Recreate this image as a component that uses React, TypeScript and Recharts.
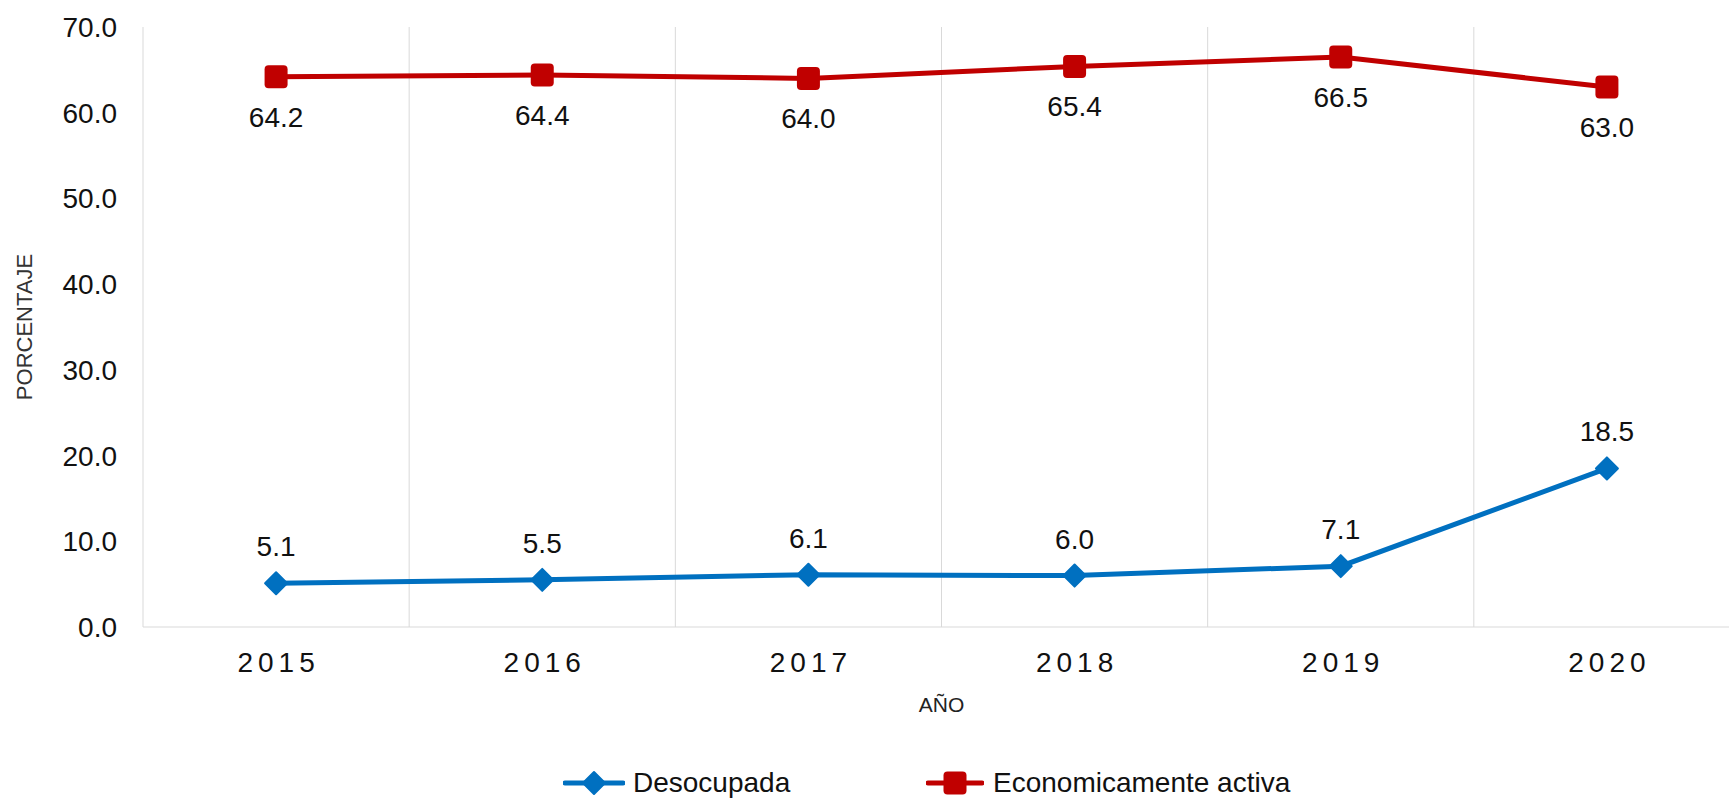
import React from 'react';
import { LineChart, Line, XAxis, YAxis, CartesianGrid, Legend, LabelList } from 'recharts';

const years = ['2015', '2016', '2017', '2018', '2019', '2020'];
const desocupada = [5.1, 5.5, 6.1, 6.0, 7.1, 18.5];
const activa = [64.2, 64.4, 64.0, 65.4, 66.5, 63.0];
const yTicks = [0, 10, 20, 30, 40, 50, 60, 70];
const seriesNames = { desocupada: 'Desocupada', activa: 'Economicamente activa' };

const data = years.map((y, i) => ({ year: y, desocupada: desocupada[i], activa: activa[i] }));

const BLUE = '#0070C0';
const RED = '#C00000';
const FONT = '"Liberation Sans", Arial, sans-serif';
const GRID = '#d9d9d9';

const SquareDot = (props: any) => {
  const { cx, cy, index } = props;
  if (cx == null || cy == null) return null;
  return <rect key={`sq-${index}`} x={cx - 11.5} y={cy - 11.5} width={23} height={23} rx={4} ry={4} fill={RED} />;
};

const DiamondDot = (props: any) => {
  const { cx, cy, index } = props;
  if (cx == null || cy == null) return null;
  const r = 11;
  return (
    <path
      key={`dm-${index}`}
      d={`M${cx},${cy - r} L${cx + r},${cy} L${cx},${cy + r} L${cx - r},${cy} Z`}
      fill={BLUE}
      stroke={BLUE}
      strokeWidth={2}
      strokeLinejoin="round"
    />
  );
};

const XTick = (props: any) => {
  const { x, y, payload } = props;
  return (
    <text x={x} y={y} dx={2.5} dy="0.71em" textAnchor="middle" fontSize={28} fontFamily={FONT} fill="#111" letterSpacing={5}>
      {payload.value}
    </text>
  );
};

const LegendContent = () => (
  <div style={{ position: 'relative', height: 40, width: 1760, fontFamily: FONT }}>
    <div style={{ position: 'absolute', left: 563, top: 6, display: 'flex', alignItems: 'center', height: 28 }}>
      <svg width={62} height={28}>
        <line x1={2} y1={14} x2={60} y2={14} stroke={BLUE} strokeWidth={5} strokeLinecap="round" />
        <path d="M31,3 L42,14 L31,25 L20,14 Z" fill={BLUE} stroke={BLUE} strokeWidth={2} strokeLinejoin="round" />
      </svg>
      <span style={{ marginLeft: 8, fontSize: 28, color: '#111', lineHeight: '28px' }}>{seriesNames.desocupada}</span>
    </div>
    <div style={{ position: 'absolute', left: 926, top: 6, display: 'flex', alignItems: 'center', height: 28 }}>
      <svg width={58} height={28}>
        <line x1={2} y1={14} x2={56} y2={14} stroke={RED} strokeWidth={5} strokeLinecap="round" />
        <rect x={17.5} y={2.5} width={23} height={23} rx={4} ry={4} fill={RED} />
      </svg>
      <span style={{ marginLeft: 9, fontSize: 28, color: '#111', lineHeight: '28px' }}>{seriesNames.activa}</span>
    </div>
  </div>
);

const YLabel = (props: any) => {
  const { viewBox } = props;
  const cx = viewBox.x + 24;
  const cy = viewBox.y + viewBox.height / 2;
  return (
    <text
      x={cx}
      y={cy}
      transform={`rotate(-90 ${cx} ${cy})`}
      textAnchor="middle"
      dominantBaseline="central"
      fontSize={22}
      fontFamily={FONT}
      fill="#333"
    >
      PORCENTAJE
    </text>
  );
};

export default function App() {
  return (
    <div style={{ position: 'fixed', left: 0, top: 0, width: 1729, height: 803, overflow: 'hidden', background: '#fff' }}>
      <LineChart width={1760} height={803} data={data} margin={{ top: 27, right: 20, bottom: 0, left: 0 }}>
        <CartesianGrid
          horizontal={false}
          stroke={GRID}
          strokeWidth={1}
          verticalCoordinatesGenerator={(p: any) => {
            const off = p.offset;
            return years.map((_, i) => off.left + ((i + 1) * off.width) / years.length);
          }}
        />
        <XAxis
          dataKey="year"
          scale="band"
          height={136}
          tickSize={0}
          tickMargin={25}
          axisLine={{ stroke: GRID, strokeWidth: 1 }}
          tickLine={false}
          tick={<XTick />}
          interval={0}
          label={{ value: 'AÑO', position: 'insideTop', offset: 70, fontSize: 21, fontFamily: FONT, fill: '#222' }}
        />
        <YAxis
          width={143}
          domain={[0, 70]}
          ticks={yTicks}
          interval={0}
          tickSize={0}
          tickMargin={26}
          tickLine={false}
          axisLine={{ stroke: GRID, strokeWidth: 1 }}
          tickFormatter={(v: number) => v.toFixed(1)}
          tick={{ fontSize: 28, fontFamily: FONT, fill: '#111' }}
          label={<YLabel />}
        />
        <Legend verticalAlign="bottom" content={<LegendContent />} wrapperStyle={{ left: 0, bottom: 0, height: 40, width: 1760 }} />
        <Line
          type="linear"
          dataKey="desocupada"
          name={seriesNames.desocupada}
          stroke={BLUE}
          strokeWidth={5}
          dot={<DiamondDot />}
          activeDot={false}
          isAnimationActive={false}
        >
          <LabelList
            dataKey="desocupada"
            position="top"
            offset={27}
            formatter={(v: any) => Number(v).toFixed(1)}
            style={{ fontSize: 28, fontFamily: FONT, fill: '#111' }}
          />
        </Line>
        <Line
          type="linear"
          dataKey="activa"
          name={seriesNames.activa}
          stroke={RED}
          strokeWidth={5}
          dot={<SquareDot />}
          activeDot={false}
          isAnimationActive={false}
        >
          <LabelList
            dataKey="activa"
            position="bottom"
            offset={30}
            formatter={(v: any) => Number(v).toFixed(1)}
            style={{ fontSize: 28, fontFamily: FONT, fill: '#111' }}
          />
        </Line>
      </LineChart>
    </div>
  );
}
